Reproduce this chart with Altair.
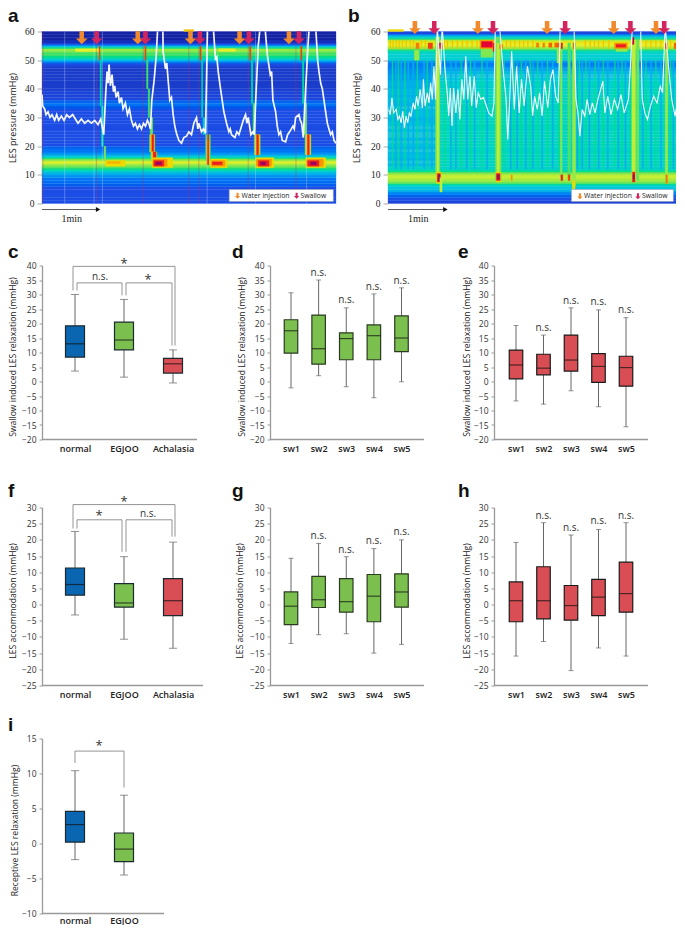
import altair as alt
import pandas as pd

SANS = "Open Sans"
SERIF = "Liberation Serif"
HEAT = alt.Scale(domain=[0, .2, .4, .55, .7, .85, 1],
                 range=['#0c1590', '#1c4ee6', '#1fc4e0', '#3fe06a', '#e8f02a', '#ef2a1a', '#8c1060'])
ORANGE, PINK = '#f08a2c', '#d4245e'
ARROW = "M-0.35,-1 L0.35,-1 L0.35,0.1 L0.9,0.1 L0,1 L-0.9,0.1 L-0.35,0.1 Z"

# ---- heat-map panels: pressure profile per 1 mmHg row, 0..59
a_rows = [.2,.2,.2,.2,.2,.2,.22,.24,.25,.3,.38,.48,.56,.66,.7,.6,.42,.3,.25,.23,
          .2,.2,.2,.2,.2,.2,.19,.2,.2,.2,.2,.2,.2,.21,.25,.23,.18,.17,.17,.16,
          .14,.14,.14,.14,.14,.14,.14,.15,.19,.32,.46,.55,.56,.62,.5,.25,.1,.05,.05,.05]
b_rows = [.17,.2,.22,.28,.36,.41,.47,.6,.62,.66,.62,.5,.46,.46,.46,.47,.46,.47,.46,.46,
          .47,.47,.46,.47,.47,.46,.47,.47,.47,.46,.47,.47,.46,.47,.47,.46,.47,.46,.46,.46,
          .44,.46,.44,.42,.4,.38,.34,.3,.26,.3,.44,.44,.45,.5,.6,.68,.72,.56,.42,.18]
b_left_rows = [.38,.4,.37,.39,.38,.4,.37,.39,.4,.37,.4,.4,.38,.4,.39,.38,.36,.38,.39,
               .38,.4,.36,.38,.39,.36,.38,.38,.35,.36,.35,.32,.32,.3,.29,.27]
# half-millimetre detail of the two pressure bands: level, heat
a_fine = [(10,.34),(10.5,.38),(11,.44),(11.5,.5),(12,.54),(12.5,.57),(13,.6),(13.5,.64),(14,.69),(14.5,.67),(15,.6),(15.5,.54),
          (16,.46),(16.5,.38),(17,.32),(17.5,.28),(49,.26),(49.5,.34),(50,.43),(50.5,.49),(51,.53),(51.5,.55),(52,.55),(52.5,.57),
          (53,.61),(53.5,.63),(54,.54),(54.5,.42),(55,.28),(55.5,.18),(56,.1)]
b_fine = [(6,.45),(6.5,.52),(7,.58),(7.5,.62),(8,.63),(8.5,.65),(9,.67),(9.5,.66),(10,.63),(10.5,.58),(11,.52),(11.5,.47),(12,.46),
          (52.5,.46),(53,.5),(53.5,.56),(54,.62),(54.5,.66),(55,.7),(55.5,.7),(56,.71),(56.5,.66),(57,.56),(57.5,.48),(58,.42),(58.5,.3),(59,.18)]
# patches: start, end, lower pressure, upper pressure, heat
a_patches = [
 (100,175,53,54,.7),(515,620,53,54,.62),(530,580,53,54,.7),(425,455,60,60.7,.74),
 (171,174,50,55,.84),(174,178,34,50,.5),(178,184,20,34,.48),(186,191,15,20,.6),
 (190,250,13,15,.72),(195,235,14,14.6,.76),
 (308,312,50,55,.84),(313,318,40,50,.55),(318,323,30,40,.55),(324,332,24,30,.58),
 (322,338,18,24,.6),(325,337,18,24,.74),(329,335,18,24,.86),(326,345,15,18,.6),(329,342,15,18,.74),(333,342,15,18,.86),
 (330,392,12.5,16,.72),(332,375,13,15.5,.78),(335,365,13,15,.86),(340,358,13.5,14.5,.98),
 (473,477,50,55,.84),(478,482,30,50,.5),(482,492,24,30,.42),(490,505,15,24,.55),(493,502,14,22,.72),(495,500,13.5,24,.86),
 (505,555,12.5,15.5,.72),(508,548,13,15,.78),(510,540,13.5,14.5,.86),
 (622,626,50,55,.84),(627,632,35,50,.5),(632,640,24,35,.55),(636,654,17,24,.6),(639,652,17,24,.74),(643,649,17,24,.86),
 (640,695,12.5,16,.72),(642,688,13,15.5,.78),(648,680,13,15,.86),(655,670,13.5,14.5,.98),
 (775,779,50,55,.84),(780,785,35,50,.5),(785,793,24,35,.58),(788,806,17,24,.6),(791,804,17,24,.74),(795,801,17,24,.86),
 (790,850,12.5,16,.72),(792,843,13,15.5,.78),(796,830,13,15,.86),(805,822,13.5,14.5,.98),
]
b_patches = [
 (0,47,60,60.7,.72),
 (145,158,10,58,.6),(150,154,10,53,.68),(148,162,7,11,.72),(150,160,7.5,10.5,.86),(153,158,8,10,1),(158,165,4,9,.66),
 (327,345,8,58,.58),(332,340,9,56,.66),(329,344,7.5,11,.72),(330,342,8,10.5,.86),(333,339,8.5,10,1),(375,379,8,10,.78),
 (525,531,9,55,.6),(527,533,8,10,.86),(548,556,9,56,.56),(549,555,8,10,.84),
 (562,572,6,56,.62),(562,570,5,8,.72),
 (743,755,8,57,.66),(745,753,7.5,11,.86),(747,751,8.5,10,1),(757,765,8,57,.58),
 (845,853,7,57,.62),(847,852,7,10,.8),
 (80,95,50,53.5,.62),(283,320,51,54,.6),(515,525,49,54,.62),(695,730,53,54,.62),
 (85,95,54,56,.8),(122,136,54,56,.84),(155,165,54,56,.86),(280,322,54,57,.78),(285,318,54.5,56.5,.88),(320,325,53,56,.86),
 (340,350,54,55.5,.8),(452,460,54.5,56,.8),(472,478,54.5,56,.8),(490,500,54.5,56,.82),(508,522,54.5,56,.82),
 (528,532,54,56,.88),(565,570,54,56,.84),(690,730,54,56,.78),(695,725,54.5,55.5,.86),(745,750,55.5,58,.92),(845,851,54,56,.84),(872,878,54,56,.82),
]
a_faint = [68, 156, 181, 495, 640, 793]
a_dashes = [3, 163, 303, 440, 470, 618, 761]
b_blue_stripes = [22,38,60,75,108,132,190,205,238,262,300,372,392,418,440,468,500,575,590,612,640,668,700,722,775,800,830,868]
b_green_stripes = [12,30,50,88,118,172,222,250,285,352,382,405,432,455,485,520,582,602,630,655,690,712,738,785,815,860]
b_comb = [6,14,24,33,43,54,66,76,100,112,170,180,195,210,225,240,255,270,360,372,385,400,412,425,440,600,615,628,640,655,672,770,785,800,815,830,860]

a_trace = [(0,38),(2,34),(8,33),(12,31),(18,32),(24,30),(30,31),(38,29),(44,31),(50,29),(58,30.5),(66,29),(74,31),(82,30),(92,31),
 (100,29.5),(108,28),(118,29.5),(128,28),(138,29),(148,28),(158,29),(168,27.5),(176,29.5),(180,27),(185,24),(191,38.5),(195,46),
 (198,42),(201,48.5),(205,41),(210,45),(214,39),(218,41),(222,37),(228,39),(232,35),(238,37),(243,33),(250,35),(256,31),(262,33),
 (268,29),(274,27),(280,28),(286,26),(292,27.5),(298,26),(304,28),(310,27),(316,29),(320,28),(325,26),(329,36),(336,43),(342,51),
 (347,62),(362,62),(363,53),(370,47),(374,49),(378,43),(383,36),(388,37),(393,31),(398,27),(403,24.5),(410,22),(418,21),(425,23),(433,23.5),
 (440,25),(448,24),(455,28),(463,30),(467,26),(470,28),(478,25),(484,26),(490,24.5),(496,62),(513,62),(520,50),(524,51),(528,46),(535,40),
 (540,36),(545,32),(553,28),(560,25),(564,26),(568,24),(578,23),(584,25),(590,24),(598,27),(603,29),(610,31),(614,28),(618,30),(626,24),
 (632,25),(636,24),(642,40),(648,55),(654,62),(668,62),(675,52),(684,45),(688,46),(692,36),(700,32),(705,27),(710,24),(715,25),(720,22),
 (730,21.5),(736,24),(742,25),(752,27),(756,26),(760,30),(770,31),(774,29),(778,28),(783,23),(790,40),(797,55),(801,62),(820,62),(826,50),
 (830,46),(835,42),(840,40),(845,36),(850,32),(855,28),(860,26),(865,24),(870,25),(875,22),(881,21)]
b_trace = [(2,32.8),(7,31),(12,36.9),(17,31.6),(25,32.8),(30,29.3),(35,30.5),(40,28.1),(45,32.2),(50,26.4),(55,30.5),(60,28.1),(65,31.6),(70,30.5),
 (77,35.1),(82,32.8),(87,37.4),(92,34),(98,39.8),(105,33.4),(108,43.3),(113,34),(120,38.6),(125,35.1),(130,42.1),(135,36.3),(140,47.9),(145,36.3),
 (150,62),(155,53.7),(160,45),(165,62),(170,53.7),(173,47.9),(177,42.7),(181,38),(185,30.5),(190,40.3),(195,27),(200,40.3),(207,31.6),(213,39.8),
 (219,29.3),(225,43.3),(231,36.3),(237,51.4),(243,36.3),(250,44.4),(255,34),(263,44.4),(269,33.4),(275,38.6),(283,36.3),(291,37),(300,34),
 (307,31.6),(317,30.5),(323,35.1),(327,62),(340,62),(350,47.9),(360,36.3),(365,22.3),(371,36.3),(377,53.1),(385,32.8),(392,47.9),(400,31.6),
 (407,43.3),(415,34),(425,47.9),(435,40.9),(441,30.5),(447,37.4),(455,32.8),(462,38.6),(470,30.5),(477,42.7),(487,33.4),(495,43.3),(503,46.7),
 (511,37.4),(519,35.1),(525,62),(545,62),(567,62),(573,36.3),(579,31.6),(585,23.5),(592,32.8),(600,30.5),(607,36.3),(615,31),(623,35.1),(631,31.6),
 (640,36.3),(655,42.7),(661,31.6),(670,37.4),(680,31),(690,36.3),(700,32.8),(710,38),(720,31.6),(733,36.3),(739,47.9),(745,62),(770,62),(775,36.3),
 (783,31.6),(791,29.3),(800,34),(810,37.4),(820,35.1),(830,40.9),(837,38.6),(845,62),(855,47.9),(865,36.3),(875,30.5),(882,35.1)]

a_water = [119, 287, 445, 592, 740]
a_swallow = [164, 310, 473, 620, 770]
b_water = [82, 274, 485, 688, 817]
b_swallow = [141, 320, 540, 739, 842]

# ---- box plots: top whisker, q3, median, q1, low whisker
GROUPS = ["normal", "EGJOO", "Achalasia"]
SWALLOWS = ["sw1", "sw2", "sw3", "sw4", "sw5"]
c_box = [(30,19.2,13,8.4,3.6),(28.3,20.5,14.3,10.9,1.5),(10.9,8,6.1,2.9,-.5)]
d_box = [(30.6,21.3,17.5,9.8,-2.2),(35,22.9,11.3,6,2),(25.4,16.8,14.8,7.5,-1.8),(30.2,19.5,15.8,7.5,-5.6),(32.3,22.6,15,10.3,-.1)]
e_box = [(19.3,10.8,5.7,.9,-6.7),(16,9.4,4.6,2.3,-7.8),(25.4,16,7.4,3.6,-3.2),(24.7,9.6,5.2,-.3,-8.7),(22,8.7,4.8,-1.6,-15.6)]
f_box = [(22.6,11.3,6.2,2.9,-3.2),(14.8,6.5,.5,-.8,-10.7),(19.3,8,1.2,-3.4,-13.5)]
g_box = [(14.3,3.9,-.5,-6.2,-12),(18.9,8.7,1.5,-.9,-9.3),(14.8,8,.9,-2.3,-9),(17.3,9.3,2.6,-5.3,-15),(20,9.5,3.9,-.8,-12.3)]
h_box = [(19.2,7,1.2,-5.3,-15.9),(25.3,11.7,1.2,-4.4,-11.4),(21.5,5.9,-.3,-4.8,-20.4),(23.2,7.8,2.3,-3.4,-13.4),(25.3,13.1,3.4,-2.3,-15.9)]
i_box = [(10.4,4.6,2.7,.2,-2.3),(6.9,1.5,-.8,-2.6,-4.5)]
BLUE, GREEN, RED = '#0b66b1', '#7bc04f', '#d94e54'
# brackets: left cat, right cat, left pixel shift, right pixel shift, bar level, left foot, right foot
c_br = [("normal","Achalasia",-2,2,39.7,31.4,12.4),("normal","EGJOO",2,-2,34,31.4,29.7),("EGJOO","Achalasia",2,-1,34,29.7,12.4)]
f_br = [("normal","Achalasia",-2,2,30.9,23.5,21),("normal","EGJOO",2,-2,26.2,23.5,16.3),("EGJOO","Achalasia",2,-1,26.2,16.3,21)]
i_br = [("normal","EGJOO",0,0,13.2,11.5,8)]
# notes: category, pixel shift, level, text
c_notes = [("EGJOO",0,41.5,"*"),("normal",25,36,"n.s."),("EGJOO",24,36,"*")]
f_notes = [("EGJOO",0,32.5,"*"),("normal",24,28.2,"*"),("EGJOO",24,28.1,"n.s.")]
i_notes = [("normal",24,14.3,"*")]
d_notes = [("sw2",0,37.5,"n.s."),("sw3",0,28,"n.s."),("sw4",0,32.6,"n.s."),("sw5",0,34.7,"n.s.")]
e_notes = [("sw2",0,18.6,"n.s."),("sw3",0,27.7,"n.s."),("sw4",0,27.5,"n.s."),("sw5",0,24.5,"n.s.")]
g_notes = [("sw2",0,21.2,"n.s."),("sw3",0,17,"n.s."),("sw4",0,19.6,"n.s."),("sw5",0,22.4,"n.s.")]
h_notes = [("sw2",0,27.5,"n.s."),("sw3",0,23.6,"n.s."),("sw4",0,25.8,"n.s."),("sw5",0,27.4,"n.s.")]


def letter(ch, x, y):
    return alt.Chart(pd.DataFrame({"k": [ch]})).mark_text(
        font="Liberation Sans", fontWeight="bold", fontSize=19, align="left", baseline="alphabetic", color="#111"
    ).encode(x=alt.value(x), y=alt.value(y), text="k:N")


def heat_panel(ch, lx, ly, W, rows, fine, left_rows, patches, trace, trace_w, water, swallow, arrow_v,
               legend_box, legend_v, legend_x, faint, dashes, blue_st, green_st, comb, arrow_end, min_x):
    H = 172
    xs = alt.Scale(domain=[0, 881], range=[0, W], nice=False, zero=False)
    ys = alt.Scale(domain=[0, 60], range=[H, 0], nice=False, zero=False)
    axis = alt.Axis(values=list(range(0, 61, 10)), domain=False, grid=False, tickColor="#aaa", tickSize=5,
                    labelFont=SERIF, labelFontSize=9.5, labelColor="#222", labelPadding=3,
                    title="LES pressure (mmHg)", titleFont=SANS, titleFontSize=9, titleFontWeight="normal",
                    titleColor="#222", titleX=min_x)
    X = lambda f: alt.X(f, type="quantitative", scale=xs, axis=None)
    Y = lambda f: alt.Y(f, type="quantitative", scale=ys, axis=axis)
    recs = [(0, 881, v, v + 1, h) for v, h in enumerate(rows)]
    recs += [(0, 881, v, v + .5, h) for v, h in fine]
    if left_rows:
        recs += [(0, 145, 13 + i, 14 + i, h) for i, h in enumerate(left_rows)]
    for t in blue_st:
        recs.append((t, t + 4, 12, 50, .36))
    for t in green_st:
        recs.append((t, t + 3, 13, 50, .52))
    for t in comb:
        recs.append((t, t + 3, 54, 57, .74))
    recs += patches
    df = pd.DataFrame(recs, columns=["t0", "t1", "v0", "v1", "h"])
    rect = alt.Chart(df).mark_rect(strokeWidth=.3).encode(
        x=X("t0"), x2="t1", y=Y("v0"), y2="v1",
        color=alt.Color("h:Q", scale=HEAT, legend=None), stroke=alt.Stroke("h:Q", scale=HEAT, legend=None))
    layers = [rect]
    if faint:
        layers.append(alt.Chart(pd.DataFrame({"t": faint})).mark_rule(color="#dfe8ff", opacity=.5, strokeWidth=.6).encode(x=X("t"), y=alt.value(0), y2=alt.value(H)))
    if dashes:
        layers.append(alt.Chart(pd.DataFrame({"t": dashes})).mark_rule(color="#b03070", opacity=.6, strokeWidth=.6).encode(x=X("t"), y=alt.value(0), y2=alt.value(H)))
    tr = pd.DataFrame(trace, columns=["t", "v"])
    layers.append(alt.Chart(tr).mark_line(color="#fff", strokeWidth=trace_w, opacity=.95, clip=True).encode(x=X("t"), y=Y("v"), order="t:Q"))
    arr = pd.DataFrame({"t": water + swallow, "v": [arrow_v] * 10, "c": [ORANGE] * 5 + [PINK] * 5})
    layers.append(alt.Chart(arr).mark_point(shape=ARROW, filled=True, size=170, opacity=1, strokeWidth=0).encode(
        x=X("t"), y=Y("v"), color=alt.Color("c:N", scale=None)))
    t0, t1, v0, v1 = legend_box
    layers.append(alt.Chart(pd.DataFrame({"t0": [t0], "t1": [t1], "v0": [v0], "v1": [v1]})).mark_rect(color="#fff", stroke="#999", strokeWidth=.5).encode(
        x=X("t0"), x2="t1", y=Y("v0"), y2="v1"))
    ox, sx = legend_x
    lg = pd.DataFrame({"t": [ox, sx], "c": [ORANGE, PINK], "v": [legend_v] * 2, "s": ["Water injection", "Swallow"]})
    layers.append(alt.Chart(lg).mark_point(shape=ARROW, filled=True, size=36, opacity=1, strokeWidth=0).encode(
        x=X("t"), y=Y("v"), color=alt.Color("c:N", scale=None)))
    layers.append(alt.Chart(lg).mark_text(font=SANS, fontSize=6.8, align="left", dx=4, color="#222").encode(
        x=X("t"), y=Y("v"), text="s:N"))
    # one-minute scale bar
    sc = pd.DataFrame({"t0": [0], "t1": [arrow_end], "v": [-2.1], "m": [arrow_end / 2 + 5], "tv": [-5.3], "s": ["1min"]})
    layers.append(alt.Chart(sc).mark_rule(color="#333", strokeWidth=.8).encode(x=X("t0"), x2="t1", y=Y("v")))
    layers.append(alt.Chart(sc).mark_point(shape="triangle-right", filled=True, size=26, opacity=1, color="#111", strokeWidth=0).encode(x=X("t1"), y=Y("v")))
    layers.append(alt.Chart(sc).mark_text(font=SERIF, fontSize=10, color="#222").encode(x=X("m"), y=Y("tv"), text="s:N"))
    layers.append(letter(ch, lx, ly))
    return alt.layer(*layers).properties(width=W, height=H)


def box_panel(ch, lx, ly, cats, box, color, dom, title, x_rng, W, line_len, full_h, plot_h,
              bw, cw, brackets, notes, title_x, stroke, label_pad=5):
    top = full_h - plot_h
    ys = alt.Scale(domain=dom, range=[full_h, top], nice=False, zero=False)
    xs = alt.Scale(type="point", domain=cats, range=x_rng, padding=0)
    y_axis = alt.Axis(values=list(range(dom[0], dom[1] + 1, 5)), grid=False, domainColor="#999", domainWidth=1.3,
                      tickColor="#999", tickSize=3, labelFont=SANS, labelFontSize=8.5, labelColor="#333", labelPadding=3,
                      title=title, titleFont=SANS, titleFontSize=8.6, titleFontWeight="normal", titleColor="#222",
                      titleX=title_x, titleY=top + plot_h / 2 + 4)
    x_axis = alt.Axis(domain=False, ticks=False, labelAngle=0, labelFont=SANS, labelFontSize=9, labelFontWeight=600,
                      labelColor="#222", labelPadding=label_pad, title=None, grid=False)
    Y = lambda f: alt.Y(f, type="quantitative", scale=ys, axis=y_axis)
    X = lambda f: alt.X(f, type="nominal", scale=xs, axis=x_axis)
    df = pd.DataFrame(box, columns=["hi", "q3", "med", "q1", "lo"])
    df["cat"] = cats
    df["fill"] = color if isinstance(color, list) else [color] * len(cats)
    base = alt.Chart(df)
    layers = [
        base.mark_rule(color="#666", strokeWidth=1).encode(x=X("cat"), y=Y("lo"), y2="hi"),
        base.mark_tick(color="#666", size=cw, thickness=1).encode(x=X("cat"), y=Y("hi")),
        base.mark_tick(color="#666", size=cw, thickness=1).encode(x=X("cat"), y=Y("lo")),
        base.mark_bar(size=bw, stroke=stroke, strokeWidth=1.2).encode(x=X("cat"), y=Y("q1"), y2="q3", color=alt.Color("fill:N", scale=None)),
        base.mark_tick(color="#111", size=bw, thickness=1.2).encode(x=X("cat"), y=Y("med")),
    ]
    layers.append(alt.Chart(pd.DataFrame({"k": [0]})).mark_rule(color="#999", strokeWidth=1.3).encode(
        x=alt.value(0), x2=alt.value(line_len), y=alt.value(full_h)))
    for a, b, da, db, lvl, fa, fb in brackets:
        d = pd.DataFrame({"a": [a], "b": [b], "lvl": [lvl], "fa": [fa], "fb": [fb]})
        c = alt.Chart(d)
        layers.append(c.mark_rule(color="#888", strokeWidth=.9, xOffset=da, x2Offset=db).encode(x=X("a"), x2="b", y=Y("lvl")))
        layers.append(c.mark_rule(color="#888", strokeWidth=.9, xOffset=da).encode(x=X("a"), y=Y("lvl"), y2="fa"))
        layers.append(c.mark_rule(color="#888", strokeWidth=.9, xOffset=db).encode(x=X("b"), y=Y("lvl"), y2="fb"))
    for cat, dx, lvl, txt in notes:
        d = pd.DataFrame({"c": [cat], "l": [lvl], "s": [txt]})
        star = txt == "*"
        layers.append(alt.Chart(d).mark_text(font=SANS, fontSize=13 if star else 10, dx=dx, dy=3 if star else 0, color="#333").encode(
            x=X("c"), y=Y("l"), text="s:N"))
    layers.append(letter(ch, lx, top + ly))
    return alt.layer(*layers).properties(width=W, height=full_h)


a = heat_panel("a", -34, -10, 294, a_rows, a_fine, None, a_patches, a_trace, 1.7, a_water, a_swallow, 57.8,
               (561, 873, .7, 4.9), 2.7, (586, 763), a_faint, a_dashes, [], [], [], 168, -24.5)
b = heat_panel("b", -40, -10, 289, b_rows, b_fine, b_left_rows, b_patches, b_trace, 1.1, b_water, b_swallow, 61.4,
               (559, 870, .7, 4.9), 2.55, (585, 762), [], [], b_blue_stripes, b_green_stripes, b_comb, 175, -27)

H2, H3, H4 = 215, 232, 214
c = box_panel("c", -34, -8, GROUPS, c_box, [BLUE, GREEN, RED], [-20, 40], "Swallow induced LES relaxation (mmHg)", [33, 131], 158, 155, H2, 174, 19, 8, c_br, c_notes, -24.5, "#1c2a30")
d = box_panel("d", -38, -8, SWALLOWS, d_box, GREEN, [-20, 40], "Swallow induced LES relaxation (mmHg)", [21, 131.5], 154, 154, H2, 174, 13.5, 5, [], d_notes, -24, "#2a3a20")
e = box_panel("e", -36, -8, SWALLOWS, e_box, RED, [-20, 40], "Swallow induced LES relaxation (mmHg)", [22, 132], 154, 154, H2, 174, 13.5, 5, [], e_notes, -23, "#1a1a1a")
f = box_panel("f", -34, -11, GROUPS, f_box, [BLUE, GREEN, RED], [-25, 30], "LES accommodation (mmHg)", [33, 131], 158, 161, H3, 178, 19, 8, f_br, f_notes, -24.5, "#1c2a30")
g = box_panel("g", -38, -11, SWALLOWS, g_box, GREEN, [-25, 30], "LES accommodation (mmHg)", [21, 131.5], 154, 154, H3, 178, 13.5, 5, [], g_notes, -26, "#2a3a20")
h = box_panel("h", -36, -11, SWALLOWS, h_box, RED, [-25, 30], "LES accommodation (mmHg)", [22, 132], 154, 154, H3, 178, 13.5, 5, [], h_notes, -23, "#1a1a1a")
i = box_panel("i", -34, -8, GROUPS[:2], i_box, [BLUE, GREEN], [-10, 15], "Receptive LES relaxation (mmHg)", [33, 82], 158, 122, H4, 175, 19, 8, i_br, i_notes, -23, "#1c2a30", label_pad=3)

row1 = alt.hconcat(a, b, spacing=52, bounds="flush")
row2 = alt.hconcat(c, d, e, spacing=70, bounds="flush")
row3 = alt.hconcat(f, g, h, spacing=70, bounds="flush")
chart = alt.vconcat(row1, row2, row3, i, spacing=0).properties(
    padding={"left": 0, "top": -1.5, "right": -2, "bottom": -1}
).configure_view(stroke=None)

chart.save("out.html", embed_options={"renderer": "svg", "actions": False})
